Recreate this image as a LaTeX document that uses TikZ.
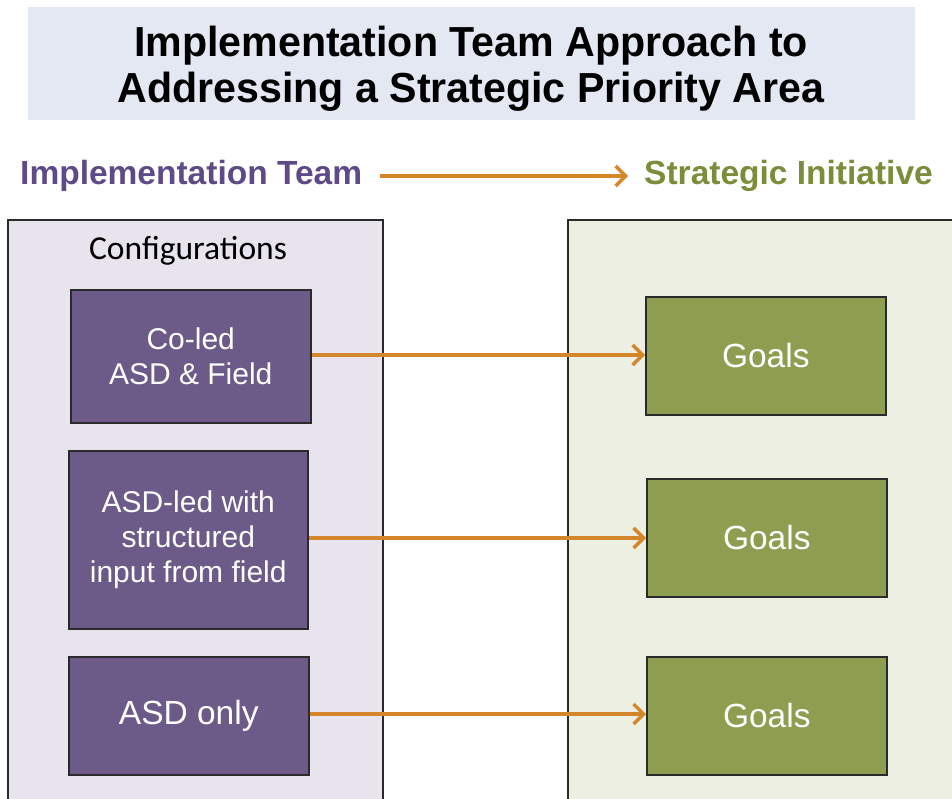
\documentclass[tikz,border=0pt]{standalone}
\usepackage{fontspec}
\setmainfont{Liberation Sans}
\newfontfamily\calib{Carlito}
\usetikzlibrary{arrows.meta}
\definecolor{titlebg}{HTML}{E4E8F2}
\definecolor{teampurple}{HTML}{5E4A86}
\definecolor{initgreen}{HTML}{7A8D3A}
\definecolor{leftbg}{HTML}{E7E4EE}
\definecolor{rightbg}{HTML}{EEEFE3}
\definecolor{boxpurple}{HTML}{6C5B89}
\definecolor{boxgreen}{HTML}{8E9E51}
\definecolor{arroworange}{HTML}{D4862B}
\definecolor{edgegray}{HTML}{2A2A2A}
\tikzset{
  cfgbox/.style={draw=edgegray, line width=1.5pt, fill=boxpurple, text=white, font=\fontsize{30}{35}\selectfont, align=center, anchor=north west, inner sep=0pt},
  goalbox/.style={draw=edgegray, line width=1.5pt, fill=boxgreen, text=white, font=\fontsize{33.5}{38}\selectfont, align=center, anchor=north west, inner sep=0pt},
  link/.style={draw=arroworange, line width=3.5pt, -{Straight Barb[length=10pt,width=20pt,line width=3.5pt]}},
  header/.style={font=\bfseries\fontsize{33.5}{38}\selectfont, inner sep=0pt},
}
\begin{document}
\begin{tikzpicture}[x=1pt,y=-1pt]
\useasboundingbox (0,0) rectangle (952,798);
% title
\node[fill=titlebg, minimum width=887, minimum height=113, anchor=north west, inner sep=0pt] (title) at (28,7) {};
\node[font=\bfseries\fontsize{42}{46}\selectfont, align=center, xscale=0.98] (titletext) at (471,69) {Implementation Team Approach to\\Addressing a Strategic Priority Area};
% header
\node[header, text=teampurple, anchor=west] (team) at (20,176) {Implementation Team};
\node[header, text=initgreen, anchor=east] (init) at (933,176) {Strategic Initiative};
\coordinate (hs) at (380,176);
\coordinate (he) at (628,176);
\draw[link] (hs) -- (he);
% big panels
\fill[leftbg] (8,220) rectangle (383,806);
\draw[draw=edgegray, line width=1.2pt] (8,806) -- (8,220) -- (383,220) -- (383,806);
\fill[rightbg] (568,220) rectangle (960,806);
\draw[draw=edgegray, line width=1.2pt] (960,220) -- (568,220) -- (568,806);
\node[font=\calib\fontsize{33.5}{38}\selectfont] (cfg) at (188,251) {Configurations};
% configuration boxes
\node[cfgbox, minimum width=240, minimum height=133] (c1) at (70,289) {Co-led\\ASD \& Field};
\node[cfgbox, minimum width=239, minimum height=178] (c2) at (68,450) {ASD-led with\\structured\\input from field};
\node[cfgbox, minimum width=240, minimum height=118, font=\fontsize{33.5}{38}\selectfont] (c3) at (68,656) {ASD only};
% goals boxes
\node[goalbox, minimum width=240, minimum height=118] (g1) at (645,296) {Goals};
\node[goalbox, minimum width=240, minimum height=118] (g2) at (646,478) {Goals};
\node[goalbox, minimum width=240, minimum height=118] (g3) at (646,656) {Goals};
% connectors
\draw[link] (c1.east |- 0,355) -- (g1.west |- 0,355);
\draw[link] (c2.east |- 0,538) -- (g2.west |- 0,538);
\draw[link] (c3.east |- 0,714) -- (g3.west |- 0,714);
\end{tikzpicture}
\end{document}
